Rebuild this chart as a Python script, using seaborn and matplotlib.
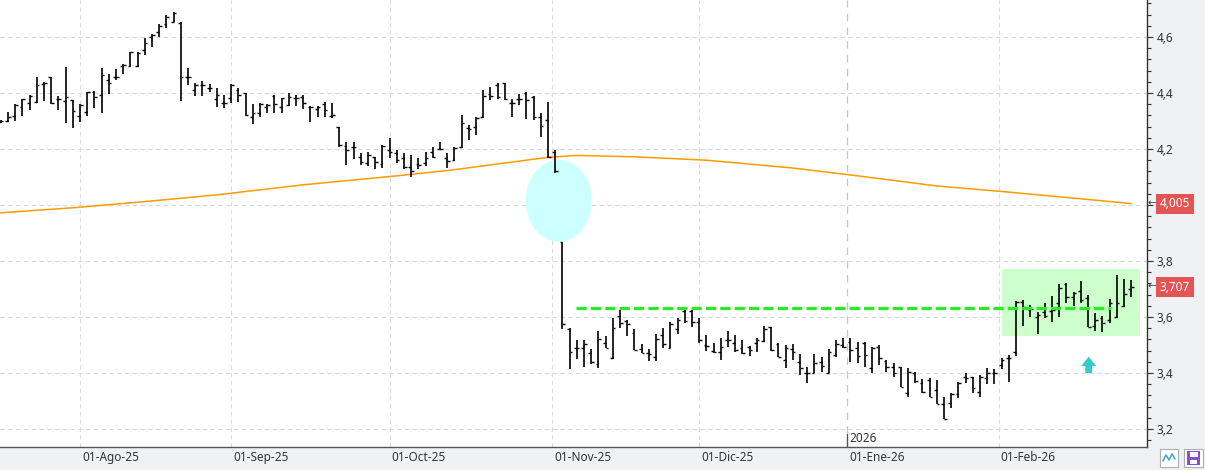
import numpy as np
import pandas as pd
import seaborn as sns
import matplotlib.pyplot as plt
import matplotlib.transforms as mtransforms
from matplotlib.patches import Ellipse, Rectangle

# datos OHLC diarios
opens = [4.295, 4.300, 4.318, 4.351, 4.363, 4.367, 4.433, 4.457, 4.377, 4.371,
         4.375, 4.318, 4.331, 4.405, 4.393, 4.446, 4.456, 4.496, 4.496, 4.496,
         4.553, 4.600, 4.619, 4.646, 4.655, 4.649, 4.458, 4.410, 4.429, 4.417,
         4.377, 4.363, 4.381, 4.411, 4.399, 4.315, 4.327, 4.351, 4.390, 4.351,
         4.357, 4.381, 4.387, 4.351, 4.342, 4.361, 4.319, 4.280, 4.212, 4.206,
         4.170, 4.149, 4.170, 4.146, 4.196, 4.185, 4.167, 4.137, 4.146, 4.149,
         4.190, 4.200, 4.167, 4.161, 4.206, 4.274, 4.280, 4.313, 4.396, 4.429,
         4.434, 4.365, 4.377, 4.399, 4.387, 4.315, 4.304, 4.190, 3.867, 3.557,
         3.491, 3.491, 3.470, 3.431, 3.506, 3.452, 3.603, 3.587, 3.542, 3.486,
         3.470, 3.458, 3.536, 3.491, 3.557, 3.623, 3.623, 3.581, 3.500, 3.480,
         3.474, 3.518, 3.506, 3.488, 3.494, 3.506, 3.515, 3.563, 3.504, 3.446,
         3.485, 3.440, 3.401, 3.399, 3.440, 3.399, 3.464, 3.500, 3.512, 3.488,
         3.508, 3.417, 3.494, 3.443, 3.423, 3.423, 3.327, 3.399, 3.363, 3.375,
         3.339, 3.289, 3.294, 3.324, 3.385, 3.385, 3.331, 3.381, 3.399, 3.429,
         3.452, 3.474, 3.655, 3.625, 3.601, 3.619, 3.623, 3.649, 3.718, 3.673,
         3.693, 3.667, 3.568, 3.595, 3.589, 3.599, 3.639, 3.699]
highs = [4.303, 4.333, 4.360, 4.378, 4.393, 4.458, 4.438, 4.458, 4.390, 4.494,
         4.375, 4.360, 4.405, 4.407, 4.490, 4.466, 4.484, 4.502, 4.548, 4.548,
         4.595, 4.610, 4.645, 4.678, 4.690, 4.652, 4.490, 4.434, 4.444, 4.432,
         4.417, 4.393, 4.432, 4.417, 4.401, 4.360, 4.363, 4.361, 4.393, 4.381,
         4.399, 4.393, 4.393, 4.355, 4.354, 4.369, 4.363, 4.280, 4.226, 4.226,
         4.184, 4.190, 4.173, 4.214, 4.238, 4.197, 4.184, 4.178, 4.167, 4.190,
         4.206, 4.226, 4.187, 4.208, 4.321, 4.286, 4.315, 4.411, 4.423, 4.437,
         4.437, 4.377, 4.396, 4.405, 4.389, 4.327, 4.369, 4.196, 3.867, 3.562,
         3.518, 3.518, 3.486, 3.550, 3.532, 3.598, 3.625, 3.589, 3.556, 3.502,
         3.486, 3.538, 3.559, 3.583, 3.595, 3.625, 3.625, 3.595, 3.536, 3.506,
         3.524, 3.550, 3.536, 3.518, 3.496, 3.524, 3.569, 3.565, 3.506, 3.500,
         3.504, 3.468, 3.420, 3.467, 3.456, 3.486, 3.518, 3.524, 3.524, 3.509,
         3.509, 3.492, 3.500, 3.446, 3.437, 3.423, 3.417, 3.402, 3.377, 3.381,
         3.375, 3.316, 3.327, 3.367, 3.399, 3.387, 3.393, 3.417, 3.413, 3.455,
         3.464, 3.657, 3.661, 3.643, 3.619, 3.649, 3.675, 3.718, 3.720, 3.691,
         3.729, 3.679, 3.613, 3.603, 3.663, 3.750, 3.735, 3.732]
lows = [4.292, 4.298, 4.300, 4.319, 4.339, 4.365, 4.371, 4.360, 4.339, 4.294,
        4.274, 4.297, 4.319, 4.347, 4.330, 4.395, 4.446, 4.468, 4.494, 4.494,
        4.536, 4.565, 4.600, 4.633, 4.652, 4.373, 4.428, 4.390, 4.389, 4.405,
        4.349, 4.345, 4.363, 4.369, 4.318, 4.288, 4.313, 4.330, 4.327, 4.327,
        4.355, 4.355, 4.343, 4.298, 4.315, 4.313, 4.309, 4.206, 4.143, 4.163,
        4.143, 4.140, 4.127, 4.131, 4.167, 4.151, 4.127, 4.099, 4.127, 4.140,
        4.167, 4.197, 4.133, 4.158, 4.202, 4.232, 4.250, 4.309, 4.375, 4.377,
        4.375, 4.315, 4.357, 4.306, 4.304, 4.244, 4.167, 4.113, 3.556, 3.413,
        3.449, 3.423, 3.431, 3.417, 3.491, 3.450, 3.559, 3.532, 3.482, 3.470,
        3.444, 3.444, 3.491, 3.491, 3.539, 3.577, 3.565, 3.506, 3.480, 3.472,
        3.446, 3.494, 3.474, 3.467, 3.462, 3.476, 3.512, 3.480, 3.456, 3.417,
        3.446, 3.393, 3.365, 3.399, 3.405, 3.399, 3.458, 3.488, 3.440, 3.435,
        3.420, 3.401, 3.429, 3.405, 3.387, 3.349, 3.315, 3.363, 3.327, 3.313,
        3.288, 3.235, 3.274, 3.310, 3.365, 3.330, 3.315, 3.360, 3.360, 3.414,
        3.369, 3.462, 3.569, 3.599, 3.538, 3.595, 3.583, 3.599, 3.649, 3.640,
        3.649, 3.563, 3.551, 3.548, 3.577, 3.595, 3.635, 3.673]
closes = [4.300, 4.315, 4.358, 4.377, 4.390, 4.428, 4.436, 4.363, 4.380, 4.387,
          4.335, 4.358, 4.402, 4.387, 4.464, 4.434, 4.458, 4.500, 4.547, 4.542,
          4.577, 4.607, 4.640, 4.672, 4.684, 4.458, 4.458, 4.428, 4.429, 4.417,
          4.393, 4.363, 4.429, 4.393, 4.321, 4.327, 4.361, 4.358, 4.360, 4.381,
          4.387, 4.381, 4.363, 4.351, 4.351, 4.339, 4.321, 4.214, 4.196, 4.208,
          4.155, 4.179, 4.155, 4.211, 4.190, 4.161, 4.135, 4.123, 4.143, 4.167,
          4.170, 4.200, 4.158, 4.202, 4.292, 4.270, 4.310, 4.389, 4.389, 4.387,
          4.377, 4.363, 4.377, 4.375, 4.313, 4.282, 4.173, 4.120, 3.574, 3.474,
          3.491, 3.502, 3.440, 3.521, 3.491, 3.560, 3.577, 3.574, 3.482, 3.470,
          3.467, 3.520, 3.502, 3.574, 3.589, 3.586, 3.581, 3.518, 3.498, 3.476,
          3.494, 3.518, 3.482, 3.473, 3.482, 3.518, 3.557, 3.482, 3.458, 3.488,
          3.476, 3.417, 3.401, 3.435, 3.425, 3.476, 3.504, 3.492, 3.482, 3.461,
          3.464, 3.488, 3.452, 3.423, 3.399, 3.351, 3.405, 3.373, 3.333, 3.313,
          3.288, 3.235, 3.325, 3.365, 3.381, 3.345, 3.387, 3.399, 3.399, 3.446,
          3.452, 3.655, 3.637, 3.627, 3.607, 3.604, 3.625, 3.702, 3.673, 3.687,
          3.661, 3.563, 3.589, 3.580, 3.649, 3.649, 3.682, 3.707]

# media movil (valores en algunas sesiones)
ma_idx = [0, 10, 20, 30, 42, 55, 63, 70, 76, 80, 88, 98, 110, 119, 130, 140, 150, 157]
ma_vals = [3.972, 3.990, 4.012, 4.036, 4.072, 4.104, 4.126, 4.150, 4.170, 4.177,
           4.172, 4.160, 4.132, 4.104, 4.068, 4.046, 4.022, 4.005]

month_labels = ['01-Ago-25', '01-Sep-25', '01-Oct-25', '01-Nov-25',
                '01-Dic-25', '01-Ene-26', '01-Feb-26']
last_close = 3.707
ma_last = 4.005
support = 3.632

# calendario de sesiones
dates = pd.bdate_range('2025-07-17', '2026-02-26')
dates = dates[~dates.isin(pd.to_datetime(['2025-12-25', '2025-12-26', '2026-01-01']))]
idx = np.arange(len(dates))

month_pos = []
for m in pd.date_range('2025-08-01', '2026-02-01', freq='MS'):
    i = dates.searchsorted(m)
    month_pos.append(i if dates[i] == m else i - 0.4)

sns.set_theme(style='white')
plt.rcParams['font.family'] = ['Noto Sans', 'DejaVu Sans']

fig = plt.figure(figsize=(12.05, 4.70), dpi=100, facecolor='#f0f1f3')
ax = fig.add_axes([0, 23 / 470, 1147 / 1205, 447 / 470])
ax.set_facecolor('white')

ax.set_xlim(-0.1, 159.2)
ax.set_ylim(3.1357, 4.732)

# rejilla
for v in np.arange(3.2, 4.61, 0.2):
    ax.axhline(v, color='#d9d9d9', lw=0.8, ls=(0, (4, 3)), zorder=0)
for k, p in enumerate(month_pos):
    if k == 5:
        ax.axvline(p, color='#c6c6c6', lw=0.9, ls=(0, (6, 5)), zorder=0)
    else:
        ax.axvline(p, color='#dcdcdc', lw=0.8, ls=(0, (4, 3)), zorder=0)

# zonas marcadas
ax.add_patch(Rectangle((139.0, 3.533), 19.2, 0.238, fc='#ccffcc', ec='none', zorder=1))
ax.add_patch(Ellipse((77.5, 4.015), 9.2, 0.292, fc='#ccffff', ec='none', zorder=1))

# media movil
sns.lineplot(x=ma_idx, y=ma_vals, color='#ff9a00', lw=1.1, ax=ax, zorder=2)

# barras OHLC
ax.vlines(idx, lows, highs, color='black', lw=1.2, zorder=3)
ax.hlines(opens, idx - 0.38, idx, color='black', lw=1.0, zorder=3)
ax.hlines(closes, idx, idx + 0.38, color='black', lw=1.0, zorder=3)

# soporte
sns.lineplot(x=[79.9, 154.2], y=[support, support], color='#22ee22', lw=2.3,
             ax=ax, zorder=4)
ax.lines[-1].set_linestyle((0, (3.2, 1.3)))

ax.annotate('', xy=(151.1, 3.458), xytext=(151.1, 3.400),
            arrowprops=dict(arrowstyle='simple,head_length=0.95,head_width=1.55,tail_width=0.7',
                            fc='#33cccc', ec='none', mutation_scale=7,
                            shrinkA=0, shrinkB=0), zorder=5)

# ejes
for s in ['left', 'top']:
    ax.spines[s].set_visible(False)
ax.spines['right'].set_color('#333333')
ax.spines['right'].set_linewidth(1)
ax.spines['bottom'].set_color('#555555')
ax.spines['bottom'].set_linewidth(1)

ax.yaxis.tick_right()
yt = np.round(np.arange(3.2, 4.61, 0.2), 1)
ax.set_yticks(yt)
ax.set_yticklabels(['' if abs(v - 4.0) < 1e-6 else f'{v:.1f}'.replace('.', ',') for v in yt])
ax.set_yticks(np.arange(3.16, 4.73, 0.04), minor=True)
ax.tick_params(axis='y', which='major', length=4, width=0.8, color='#333333',
               pad=3, labelsize=8.5, labelcolor='#333333')
ax.tick_params(axis='y', which='minor', length=3, width=0.8, color='#333333')

ax.set_xticks(month_pos)
ax.set_xticklabels([])
ax.tick_params(axis='x', which='major', length=6, width=0.8, color='#555555',
               direction='out')

bt = mtransforms.blended_transform_factory(ax.transData, ax.transAxes)
for p, lab in zip(month_pos, month_labels):
    ax.text(p + 0.3, -0.0224, lab, transform=bt, ha='left', va='center',
            fontsize=8.5, color='#333333', clip_on=False)

ax.plot([month_pos[5], month_pos[5]], [0, 0.03], transform=bt, color='#555555',
        lw=1, zorder=5)
ax.text(month_pos[5] + 0.3, 0.02, '2026', transform=bt, ha='left', va='center',
        fontsize=8.5, color='#333333')

# etiquetas de precio
rt = mtransforms.blended_transform_factory(ax.transAxes, ax.transData)
for val in [ma_last, last_close]:
    ax.text(1.0113, val, f'{val:.3f}'.replace('.', ','), transform=rt, ha='left',
            va='center', color='white', fontsize=8.5, clip_on=False, zorder=10,
            bbox=dict(boxstyle='square,pad=0.3', fc='#e35454', ec='none'))
    ax.text(1.0008, val, '←', transform=rt, ha='left', va='center', color='#444444',
            fontsize=7.5, clip_on=False, zorder=10)

# iconos inferiores
W, H = 1205, 470
fig.add_artist(Rectangle((1160 / W, 3 / H), 18 / W, 18 / H, transform=fig.transFigure,
                         fc='white', ec='#a8b0b8', lw=0.8))
fig.add_artist(plt.Line2D(np.array([1163, 1166, 1169, 1172, 1175]) / W,
                          np.array([9, 15, 10, 16, 11]) / H, transform=fig.transFigure,
                          color='#4aa3d8', lw=1.2))
fig.add_artist(Rectangle((1184 / W, 3 / H), 19 / W, 18 / H, transform=fig.transFigure,
                         fc='white', ec='#a8b0b8', lw=0.8))
fig.add_artist(Rectangle((1187 / W, 5 / H), 13 / W, 14 / H, transform=fig.transFigure,
                         fc='#8a4fcf', ec='none'))
fig.add_artist(Rectangle((1189.5 / W, 13 / H), 8 / W, 5 / H, transform=fig.transFigure,
                         fc='white', ec='none'))
fig.add_artist(Rectangle((1190 / W, 6 / H), 7 / W, 4 / H, transform=fig.transFigure,
                         fc='white', ec='none'))

plt.savefig('out.png', dpi=100, facecolor=fig.get_facecolor())
